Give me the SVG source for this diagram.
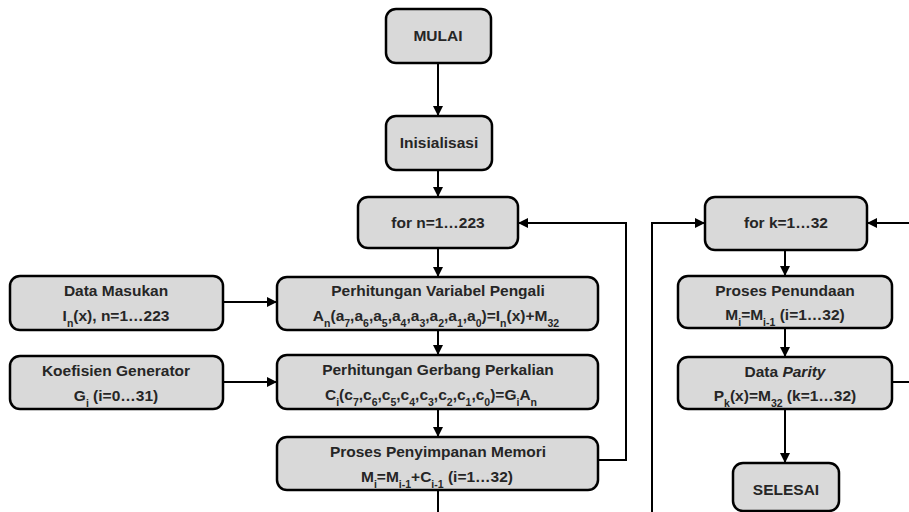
<svg xmlns="http://www.w3.org/2000/svg" width="909" height="512" viewBox="0 0 909 512">
<defs>
<marker id="ah" viewBox="0 0 10 10" refX="10" refY="5" markerWidth="5" markerHeight="5" orient="auto" markerUnits="strokeWidth">
<path d="M0,0 L10,5 L0,10 z" fill="#000"/>
</marker>
<style>
.box{fill:#d9d9d9;stroke:#000;stroke-width:2.5}
.t{font-family:"Liberation Sans",Arial,sans-serif;font-weight:bold;font-size:15.5px;fill:#262626;text-anchor:middle}
.s{font-size:10.5px;baseline-shift:sub}
.c{fill:none;stroke:#000;stroke-width:2}
.a{marker-end:url(#ah)}
</style>
</defs>
<rect width="909" height="512" fill="#fff"/>
<g id="mulai"><rect class="box" x="386" y="9" width="105" height="54" rx="10"/><text class="t" x="438" y="41">MULAI</text></g>
<g id="init"><rect class="box" x="386" y="116" width="106" height="54" rx="10"/><text class="t" x="439" y="148">Inisialisasi</text></g>
<g id="forn"><rect class="box" x="358" y="197" width="160" height="51" rx="10"/><text class="t" x="438" y="228">for n=1…223</text></g>
<g id="masukan"><rect class="box" x="10" y="276" width="213" height="54" rx="10"/><text class="t" x="116" y="296">Data Masukan</text><text class="t" x="116" y="321">I<tspan class="s">n</tspan>(x), n=1…223</text></g>
<g id="koef"><rect class="box" x="10" y="356" width="213" height="53" rx="10"/><text class="t" x="116" y="376">Koefisien Generator</text><text class="t" x="116" y="401">G<tspan class="s">i</tspan> (i=0…31)</text></g>
<g id="variabel"><rect class="box" x="277" y="277" width="321" height="53" rx="10"/><text class="t" x="438" y="296">Perhitungan Variabel Pengali</text><text class="t" x="436" y="321">A<tspan class="s">n</tspan><tspan>(a</tspan><tspan class="s">7</tspan><tspan>,a</tspan><tspan class="s">6</tspan><tspan>,a</tspan><tspan class="s">5</tspan><tspan>,a</tspan><tspan class="s">4</tspan><tspan>,a</tspan><tspan class="s">3</tspan><tspan>,a</tspan><tspan class="s">2</tspan><tspan>,a</tspan><tspan class="s">1</tspan><tspan>,a</tspan><tspan class="s">0</tspan><tspan>)=I</tspan><tspan class="s">n</tspan><tspan>(x)+M</tspan><tspan class="s">32</tspan></text></g>
<g id="gerbang"><rect class="box" x="277" y="355" width="321" height="54" rx="10"/><text class="t" x="438" y="375">Perhitungan Gerbang Perkalian</text><text class="t" x="431" y="400">C<tspan class="s">i</tspan><tspan>(c</tspan><tspan class="s">7</tspan><tspan>,c</tspan><tspan class="s">6</tspan><tspan>,c</tspan><tspan class="s">5</tspan><tspan>,c</tspan><tspan class="s">4</tspan><tspan>,c</tspan><tspan class="s">3</tspan><tspan>,c</tspan><tspan class="s">2</tspan><tspan>,c</tspan><tspan class="s">1</tspan><tspan>,c</tspan><tspan class="s">0</tspan><tspan>)=G</tspan><tspan class="s">i</tspan><tspan>A</tspan><tspan class="s">n</tspan></text></g>
<g id="memori"><rect class="box" x="277" y="437" width="321" height="53" rx="10"/><text class="t" x="438" y="457">Proses Penyimpanan Memori</text><text class="t" x="437" y="482">M<tspan class="s">i</tspan><tspan>=M</tspan><tspan class="s">i-1</tspan><tspan>+C</tspan><tspan class="s">i-1</tspan><tspan> (i=1…32)</tspan></text></g>
<g id="fork"><rect class="box" x="705" y="197" width="162" height="53" rx="10"/><text class="t" x="786" y="228">for k=1…32</text></g>
<g id="tunda"><rect class="box" x="678" y="276" width="214" height="52" rx="10"/><text class="t" x="785" y="296">Proses Penundaan</text><text class="t" x="785" y="320">M<tspan class="s">i</tspan><tspan>=M</tspan><tspan class="s">i-1</tspan><tspan> (i=1…32)</tspan></text></g>
<g id="parity"><rect class="box" x="678" y="357" width="214" height="52" rx="10"/><text class="t" x="785" y="377">Data <tspan font-style="italic">Parity</tspan></text><text class="t" x="785" y="401">P<tspan class="s">k</tspan><tspan>(x)=M</tspan><tspan class="s">32</tspan><tspan> (k=1…32)</tspan></text></g>
<g id="selesai"><rect class="box" x="733" y="463" width="106" height="48" rx="10"/><text class="t" x="786" y="495">SELESAI</text></g>
<g id="connectors">
<path class="c a" d="M438,63 V116"/>
<path class="c a" d="M438,170 V197"/>
<path class="c a" d="M438,248 V277"/>
<path class="c a" d="M438,330 V355"/>
<path class="c a" d="M438,409 V437"/>
<path class="c" d="M438,490 V512"/>
<path class="c a" d="M598,460 H626 V223 H518"/>
<path class="c a" d="M223,302 H277"/>
<path class="c a" d="M223,382 H277"/>
<path class="c a" d="M652,512 V223 H705"/>
<path class="c a" d="M909,223 H867"/>
<path class="c a" d="M785,250 V276"/>
<path class="c a" d="M785,328 V357"/>
<path class="c a" d="M785,409 V463"/>
<path class="c" d="M892,382 H909"/>
</g>
</svg>
